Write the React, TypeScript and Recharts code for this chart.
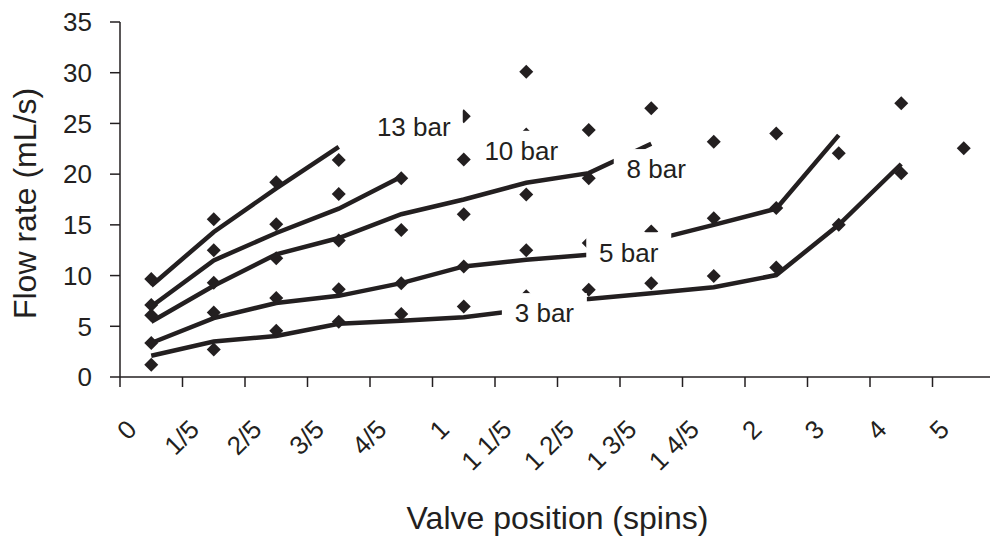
import { ComposedChart, Label, Line, Scatter, XAxis, YAxis } from 'recharts'

const INK = '#231f20'
const FONT = '"Liberation Sans", Arial, Helvetica, sans-serif'

const spinLabels = ['0', '1/5', '2/5', '3/5', '4/5', '1', '1 1/5', '1 2/5', '1 3/5', '1 4/5', '2', '3', '4', '5']
const flowTicks = [0, 5, 10, 15, 20, 25, 30, 35]

// measured flow rates (diamonds), one list per supply pressure
const measured13Bar = [9.65, 15.55, 19.2, 21.4, 24.5, 25.7, 30.1]
const measured10Bar = [7.1, 12.5, 15.05, 18.05, 19.6, 21.45, 23.9, 24.35, 26.5]
const measured8Bar = [6.1, 9.3, 11.7, 13.45, 14.5, 16.05, 18.0, 19.6, 21.0, 23.2, 24.0]
const measured5Bar = [3.35, 6.35, 7.8, 8.65, 9.25, 10.9, 12.5, 13.2, 14.35, 15.65, 16.65, 22.05, 27.0]
const measured3Bar = [1.2, 2.7, 4.55, 5.45, 6.2, 6.95, 7.95, 8.6, 9.25, 9.95, 10.8, 15.0, 20.1, 22.55]

// fitted curves
const fit13Bar = [9.0, 14.3, 18.6, 22.7]
const fit10Bar = [6.95, 11.5, 14.2, 16.6, 19.75]
const fit8Bar = [5.45, 9.0, 12.1, 13.7, 16.05, 17.5, 19.15, 20.1, 23.0]
const fit5Bar = [3.35, 5.8, 7.3, 8.0, 9.25, 10.9, 11.55, 12.05, 13.45, 15.0, 16.6, 23.85]
const fit3Bar = [2.1, 3.5, 4.05, 5.25, 5.55, 5.9, 6.65, 7.7, 8.25, 8.85, 10.05, 15.0, 21.0]

// curve name tags, placed in chart units (spin slot, flow)
const pressureNames = ['13 bar', '10 bar', '8 bar', '5 bar', '3 bar']
const tagSlots = [4.7, 6.42, 8.58, 8.14, 6.79]
const tagFlows = [24.7, 22.3, 20.5, 12.3, 6.3]

const slotEdges = spinLabels.map((_, index) => index).concat(spinLabels.length)
const slotCenters = spinLabels.map((_, index) => index + 0.5)

function toPoints(values: number[]) {
  return values.map((y, index) => ({ x: index + 0.5, y }))
}

const tagRows = pressureNames.map((tag, index) => ({ x: tagSlots[index], y: tagFlows[index], tag }))

const measuredSeries = [measured13Bar, measured10Bar, measured8Bar, measured5Bar, measured3Bar]
const fitSeries = [fit13Bar, fit10Bar, fit8Bar, fit5Bar, fit3Bar]

function Diamond(props: any) {
  const { cx, cy } = props
  if (cx == null || cy == null) return null
  const r = 7
  return <polygon points={`${cx},${cy - r} ${cx + r},${cy} ${cx},${cy + r} ${cx - r},${cy}`} fill={INK} />
}

function NameTag(props: any) {
  const { cx, cy, payload } = props
  const text: string = payload?.tag ?? ''
  const width = text.length * 13 + 20
  return (
    <g>
      <rect x={cx - width / 2} y={cy - 20} width={width} height={40} fill="#ffffff" />
      <text x={cx} y={cy} dy="0.36em" textAnchor="middle" fontSize={26} fontFamily={FONT} fill={INK}>
        {text}
      </text>
    </g>
  )
}

function SpinTick(props: any) {
  const { x, y, payload } = props
  const label = spinLabels[Math.floor(payload.value)]
  return (
    <g transform={`translate(${x - 13},${y + 53})`}>
      <text transform="rotate(-45)" textAnchor="end" fontSize={26} fontFamily={FONT} fill={INK}>
        {label}
      </text>
    </g>
  )
}

function BlankTick() {
  return <g />
}

export default function App() {
  return (
    <div
      style={{
        position: 'fixed',
        left: 0,
        top: 0,
        width: 990,
        height: 538,
        overflow: 'hidden',
        background: '#ffffff'
      }}
    >
      <ComposedChart width={1010} height={538} margin={{ top: 22, right: 15, bottom: 0, left: 0 }}>
        <XAxis
          xAxisId="frame"
          type="number"
          dataKey="x"
          domain={[0, spinLabels.length]}
          allowDataOverflow
          ticks={slotEdges}
          interval={0}
          tick={<BlankTick />}
          tickSize={10}
          height={1}
          axisLine
          tickLine
          stroke={INK}
          strokeWidth={1.5}
        />
        <XAxis
          xAxisId="spin"
          type="number"
          dataKey="x"
          domain={[0, spinLabels.length]}
          allowDataOverflow
          ticks={slotCenters}
          interval={0}
          axisLine={false}
          tickLine={false}
          tickSize={0}
          tickMargin={0}
          tick={<SpinTick />}
          height={160}
        >
          <Label
            content={(p: any) => {
              const vb = p.viewBox
              return (
                <text
                  x={vb.x + vb.width / 2}
                  y={vb.y + 151}
                  textAnchor="middle"
                  fontSize={32}
                  fontFamily={FONT}
                  fill={INK}
                >
                  Valve position (spins)
                </text>
              )
            }}
          />
        </XAxis>
        <YAxis
          type="number"
          dataKey="y"
          domain={[0, 35]}
          ticks={flowTicks}
          interval={0}
          width={120}
          tickSize={10}
          tickMargin={18}
          axisLine
          tickLine
          stroke={INK}
          strokeWidth={1.5}
          tick={{ fontSize: 26, fontFamily: FONT, fill: INK }}
        >
          <Label
            content={(p: any) => {
              const vb = p.viewBox
              const cx = vb.x + 36
              const cy = vb.y + vb.height / 2 + 4
              return (
                <text
                  x={cx}
                  y={cy}
                  transform={`rotate(-90, ${cx}, ${cy})`}
                  textAnchor="middle"
                  fontSize={32}
                  fontFamily={FONT}
                  fill={INK}
                >
                  Flow rate (mL/s)
                </text>
              )
            }}
          />
        </YAxis>
        {fitSeries.map((values, index) => (
          <Line
            key={`fit-${pressureNames[index]}`}
            xAxisId="frame"
            data={toPoints(values)}
            dataKey="y"
            type="linear"
            stroke={INK}
            strokeWidth={4.5}
            dot={false}
            activeDot={false}
            isAnimationActive={false}
          />
        ))}
        {measuredSeries.map((values, index) => (
          <Scatter
            key={`measured-${pressureNames[index]}`}
            xAxisId="spin"
            data={toPoints(values)}
            dataKey="y"
            fill={INK}
            shape={<Diamond />}
            isAnimationActive={false}
          />
        ))}
        <Scatter
          xAxisId="spin"
          data={tagRows}
          dataKey="y"
          shape={<NameTag />}
          isAnimationActive={false}
          zIndex={1000}
        />
      </ComposedChart>
    </div>
  )
}
